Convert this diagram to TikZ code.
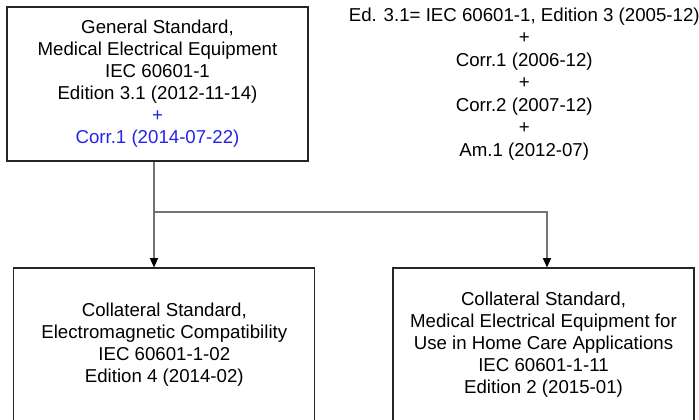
\documentclass[tikz,border=0pt]{standalone}
\usepackage{fontspec}
\setmainfont{Liberation Sans}
\usepackage{tikz}
\usetikzlibrary{arrows.meta,
    positioning}
\definecolor{corrblue}{RGB}{35,35,235}

\begin{document}
\begin{tikzpicture}[x=0.75pt, y=-0.75pt,
                  font = \fontsize{14}{16.5}\selectfont,
                  std/.style = {draw=black!85, line width=0.8pt, align=center,
                                minimum width=225.75pt, minimum height=115.5pt, inner sep=0pt},
                  note/.style = {align=center, inner sep=0pt, font=\fontsize{14}{16.9}\selectfont},
                  arr/.style = {-{Triangle[length=7pt, width=6pt, color=black]},
                                draw=black!55, line width=1pt}
                  ]
\useasboundingbox (0,0) rectangle (699,420);
\clip (0,0) rectangle (699,420);
\node[std] (gen) at (157.5,84) {General Standard,\\ Medical Electrical Equipment\\ IEC 60601-1\\
    Edition 3.1 (2012-11-14)\\ \textcolor{corrblue}{+}\\ \textcolor{corrblue}{Corr.1 (2014-07-22)}};
\node[note, right=30pt of gen] (hist) {Ed. 3.1= IEC 60601-1, Edition 3 (2005-12)\\ +\\ Corr.1 (2006-12)\\
    +\\ Corr.2 (2007-12)\\ +\\ Am.1 (2012-07)};
\node[std] (emc) at (164.3,345) {Collateral Standard,\\ Electromagnetic Compatibility\\
    IEC 60601-1-02\\ Edition 4 (2014-02)};
\node[std] (home) at (543.5,345) {Collateral Standard,\\ Medical Electrical Equipment for\\
    Use in Home Care Applications\\ IEC 60601-1-11\\ Edition 2 (2015-01)};
\coordinate (fork) at (154,212);
\draw[arr] (gen.south -| fork) -- (fork) -- (fork |- emc.north);
\draw[arr] (fork) -| ([xshift=2.6pt]home.north);
\end{tikzpicture}
\end{document}
